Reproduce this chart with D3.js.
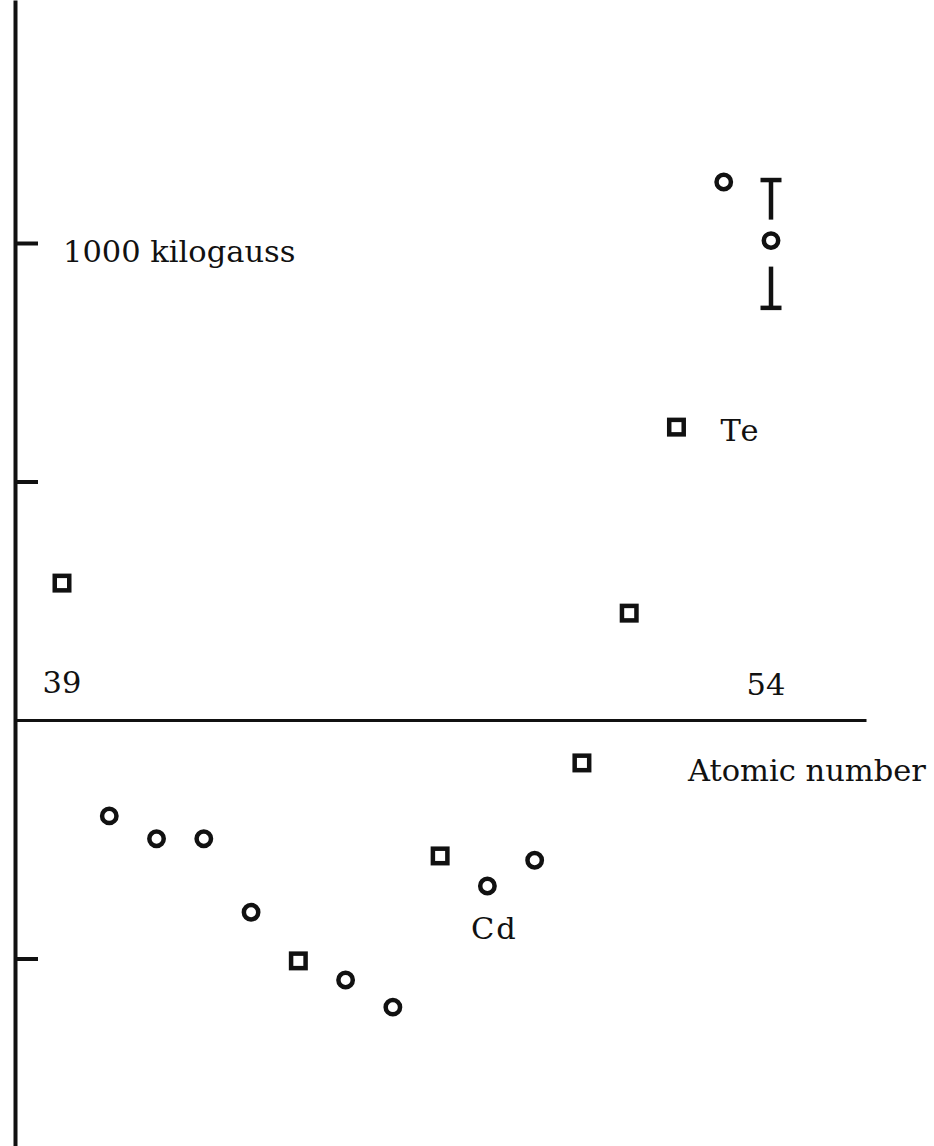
<!DOCTYPE html>
<html>
<head>
<meta charset="utf-8">
<script src="https://cdn.jsdelivr.net/npm/d3@7"></script>
<style>
  body { margin: 0; background: #fff; }
  text { font-family: "DejaVu Serif", serif; fill: #111; }
</style>
</head>
<body>
<script>
// values (kilogauss)
var atomicNumber = [39, 40, 41, 42, 43, 44, 45, 46, 47, 48, 49, 50, 51, 52, 53, 54];
var fieldKG      = [287, -201, -249, -249, -403, -505, -545, -602, -285, -348, -294, -90, 224, 614, 1128, 1005];
var marker       = ["square", "circle", "circle", "circle", "circle", "square", "circle", "circle",
                    "square", "circle", "circle", "square", "square", "square", "circle", "circle"];
var errZ   = [54];
var errLow = [864];
var errHigh = [1132];
var yTicks = [1000, 500, -500];

var width = 934, height = 1146;

var x = d3.scaleLinear()
    .domain([39, 54])
    .range([62, 771]);

var y = d3.scaleLinear()
    .domain([0, 1000])
    .range([720, 243]);

var svg = d3.select("body")
            .append("svg")
            .attr("width", width)
            .attr("height", height);

// Y axis, full page height
var yFull = d3.scaleLinear()
    .domain([y.invert(height), y.invert(0)])
    .range([height, 0]);
svg.append("g")
   .attr("class", "yaxis")
   .attr("transform", "translate(15, 0)")
   .call(d3.axisRight(yFull).tickValues(yTicks).tickSize(23).tickSizeOuter(0).tickFormat(""));

// X axis, just the line
var xFull = d3.scaleLinear()
    .domain([x.invert(15), x.invert(866)])
    .range([15, 866]);
svg.append("g")
   .attr("class", "xaxis")
   .attr("transform", `translate(0, ${y(0)})`)
   .call(d3.axisBottom(xFull).tickValues([]).tickSizeOuter(0));

svg.selectAll(".yaxis path, .yaxis line").attr("stroke", "#111").attr("stroke-width", 4);
svg.selectAll(".xaxis path").attr("stroke", "#111").attr("stroke-width", 3);

var pts = atomicNumber.map(function(z, i) { return {z: z, v: fieldKG[i], m: marker[i]}; });

svg.selectAll(".circ")
   .data(pts.filter(function(d) { return d.m == "circle"; }))
   .enter().append("circle")
   .attr("class", "circ")
   .attr("cx", function(d) { return x(d.z); })
   .attr("cy", function(d) { return y(d.v); })
   .attr("r", 7.2)
   .attr("fill", "none")
   .attr("stroke", "#111")
   .attr("stroke-width", 4.5);

var side = 14.5;
svg.selectAll(".sq")
   .data(pts.filter(function(d) { return d.m == "square"; }))
   .enter().append("rect")
   .attr("class", "sq")
   .attr("x", function(d) { return x(d.z) - side / 2; })
   .attr("y", function(d) { return y(d.v) - side / 2; })
   .attr("width", side)
   .attr("height", side)
   .attr("fill", "none")
   .attr("stroke", "#111")
   .attr("stroke-width", 4.5);

// error bar on Xe, drawn with a gap round the point
errZ.forEach(function(z, i) {
  var v = fieldKG[atomicNumber.indexOf(z)];
  var g = svg.append("g").attr("stroke", "#111").attr("stroke-width", 4.5);
  var cx = x(z), gap = 21, cap = 10.5;
  g.append("line").attr("x1", cx).attr("x2", cx).attr("y1", y(errHigh[i])).attr("y2", y(v) - gap);
  g.append("line").attr("x1", cx).attr("x2", cx).attr("y1", y(v) + gap + 5).attr("y2", y(errLow[i]));
  g.append("line").attr("x1", cx - cap).attr("x2", cx + cap).attr("y1", y(errHigh[i])).attr("y2", y(errHigh[i]));
  g.append("line").attr("x1", cx - cap).attr("x2", cx + cap).attr("y1", y(errLow[i])).attr("y2", y(errLow[i]));
});

// labels
var fs = "30.5px";
svg.append("text")
   .attr("x", 63).attr("y", y(1000) + 19)
   .style("font-size", fs)
   .text("1000 kilogauss");

svg.append("text")
   .attr("x", x(39)).attr("y", y(0) - 27)
   .style("text-anchor", "middle").style("font-size", fs)
   .text("39");

svg.append("text")
   .attr("x", x(54) - 5).attr("y", y(0) - 25)
   .style("text-anchor", "middle").style("font-size", fs)
   .text("54");

svg.append("text")
   .attr("x", 688).attr("y", 781)
   .style("font-size", fs)
   .text("Atomic number");

svg.append("text")
   .attr("x", x(52) + 44).attr("y", y(614) + 14)
   .style("font-size", fs).style("letter-spacing", "2px")
   .text("Te");

svg.append("text")
   .attr("x", x(48) + 7).attr("y", y(-348) + 53)
   .style("text-anchor", "middle").style("font-size", fs).style("letter-spacing", "2px")
   .text("Cd");
</script>
</body>
</html>
